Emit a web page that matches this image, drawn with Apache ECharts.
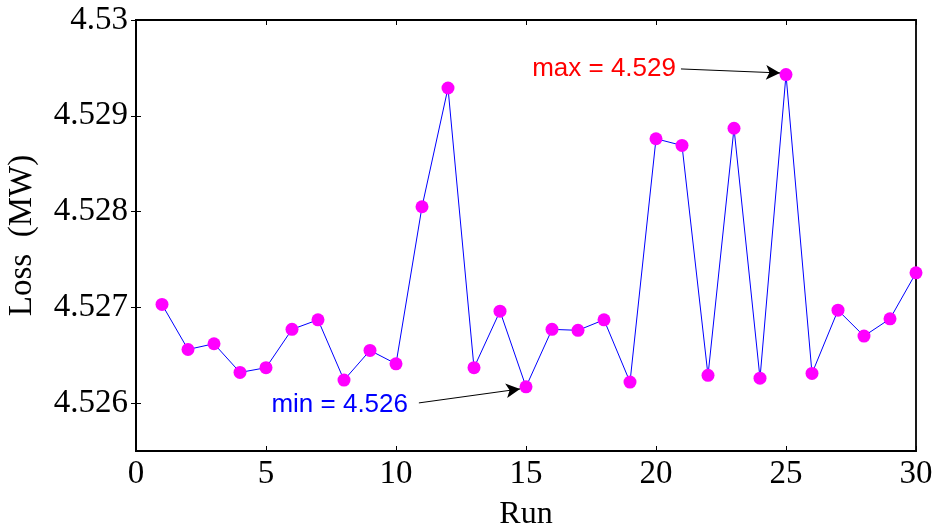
<!DOCTYPE html>
<html>
<head>
<meta charset="utf-8">
<script src="https://cdn.jsdelivr.net/npm/echarts@6/dist/echarts.min.js"></script>
<style>html,body{margin:0;padding:0;background:#fff;}#c{width:934px;height:527px;}</style>
</head>
<body>
<div id="c"></div>
<script>
const runs = [1,2,3,4,5,6,7,8,9,10,11,12,13,14,15,16,17,18,19,20,21,22,23,24,25,26,27,28,29,30];
const loss = [4.52703,4.52656,4.52662,4.52632,4.52637,4.52677,4.52687,4.52624,4.52655,4.52641,
              4.52805,4.52929,4.52637,4.52696,4.52617,4.52677,4.52676,4.52687,4.52622,4.52876,
              4.52869,4.52629,4.52887,4.52626,4.52943,4.52631,4.52697,4.52670,4.52688,4.52736];
const xTicks = [0,5,10,15,20,25,30];
const yTicks = [4.526,4.527,4.528,4.529,4.53];
const yTickLabels = ['4.526','4.527','4.528','4.529','4.53'];
const maxNote = {text:'max = 4.529', from:[20.96,4.529489], to:[24.77,4.529447]};
const minNote = {text:'min = 4.526', from:[10.88,4.526002], to:[14.77,4.526148]};

const serif = 'Liberation Serif';
const chart = echarts.init(document.getElementById('c'), null, {renderer:'canvas'});
const tickStyle = {show:true, inside:true, length:5, lineStyle:{color:'#000', width:1}};
chart.setOption({
  animation:false,
  backgroundColor:'#fff',
  grid:{left:136, top:20, right:18, bottom:76, show:true, borderColor:'#000', borderWidth:1.8,
        containLabel:false, outerBoundsMode:'none'},
  xAxis:[{
    type:'value', min:0, max:30, interval:5, position:'bottom',
    name:'Run', nameLocation:'middle', nameGap:48,
    nameTextStyle:{fontFamily:serif, fontSize:32, color:'#000'},
    axisLine:{show:true, lineStyle:{color:'#000', width:1.8}},
    axisTick:Object.assign({customValues:xTicks}, tickStyle),
    axisLabel:{customValues:xTicks, fontFamily:serif, fontSize:33, color:'#000', margin:7},
    splitLine:{show:false}
  },{
    type:'value', min:0, max:30, interval:5, position:'top',
    axisLine:{show:true, lineStyle:{color:'#000', width:1.8}},
    axisTick:Object.assign({customValues:xTicks}, tickStyle),
    axisLabel:{show:false}, splitLine:{show:false}
  }],
  yAxis:[{
    type:'value', min:4.5255, max:4.53, interval:0.0005, position:'left',
    name:'Loss  (MW)', nameLocation:'middle', nameGap:97,
    nameTextStyle:{fontFamily:serif, fontSize:33, color:'#000'},
    axisLine:{show:true, lineStyle:{color:'#000', width:1.8}},
    axisTick:Object.assign({customValues:yTicks}, tickStyle),
    axisLabel:{customValues:yTicks, fontFamily:serif, fontSize:33, color:'#000', margin:8,
      formatter:function(v){ const i = yTicks.findIndex(t=>Math.abs(t-v)<1e-7); return i>=0?yTickLabels[i]:''; }},
    splitLine:{show:false}
  },{
    type:'value', min:4.5255, max:4.53, interval:0.0005, position:'right',
    axisLine:{show:true, lineStyle:{color:'#000', width:1.8}},
    axisTick:Object.assign({customValues:yTicks}, tickStyle),
    axisLabel:{show:false}, splitLine:{show:false}
  }],
  series:[{
    type:'line',
    data:runs.map((r,i)=>[r, loss[i]]),
    xAxisIndex:0, yAxisIndex:0,
    symbol:'circle', symbolSize:13,
    itemStyle:{color:'#ff00ff'},
    lineStyle:{color:'#0000ff', width:1},
    markLine:{
      silent:true, symbol:['none','arrow'], symbolSize:[11,14],
      lineStyle:{color:'#000', width:1, type:'solid'},
      data:[
        [{coord:maxNote.from, label:{show:true, position:'start', formatter:maxNote.text, color:'#ff0000', fontFamily:'Liberation Sans', fontSize:26, distance:5}},
         {coord:maxNote.to}],
        [{coord:minNote.from, label:{show:true, position:'start', formatter:minNote.text, color:'#0000ff', fontFamily:'Liberation Sans', fontSize:26, distance:11}},
         {coord:minNote.to}]
      ]
    }
  }]
});
</script>
</body>
</html>
